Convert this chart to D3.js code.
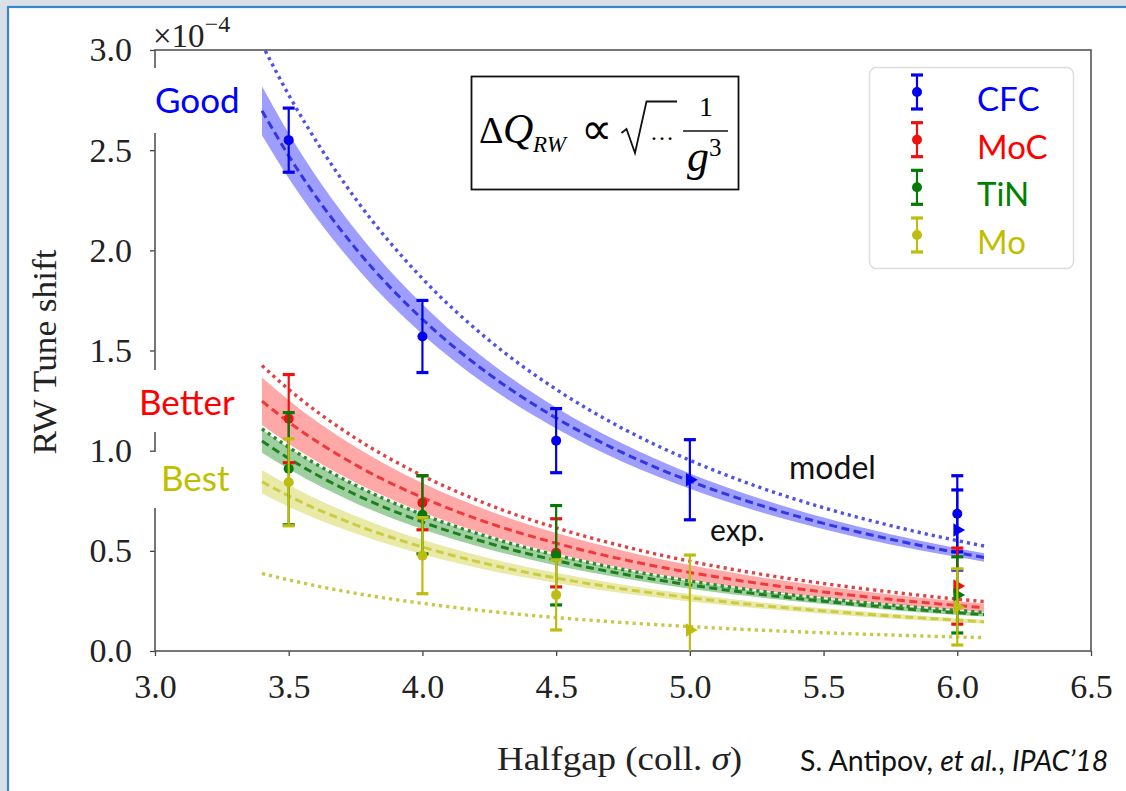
<!DOCTYPE html>
<html lang="en">
<head>
<meta charset="utf-8"/>
<script src="https://d3js.org/d3.v7.min.js"></script>
<style>
  body { margin: 0; background: #d9e0e8; }
  .tick text { font-family: "Liberation Serif", serif; font-size: 34px; fill: #222; }
  .tick line { stroke: #444; stroke-width: 1.3; }
  .domain { display: none; }
  .note { font-family: Lato, "Open Sans", sans-serif; }
</style>
</head>
<body>
<svg id="chart" width="1126" height="791"></svg>
<script>
// sample halfgaps for the fitted / model curves
const halfgap = [3.4, 3.5, 3.75, 4.0, 4.25, 4.5, 4.75, 5.0, 5.25, 5.5, 5.75, 6.0, 6.1];

// CFC
const cfcFit   = [2.697, 2.472, 2.010, 1.656, 1.381, 1.163, 0.989, 0.848, 0.733, 0.637, 0.558, 0.491, 0.467];
const cfcHigh  = [2.819, 2.584, 2.101, 1.731, 1.443, 1.216, 1.034, 0.886, 0.766, 0.666, 0.583, 0.513, 0.488];
const cfcLow   = [2.575, 2.360, 1.919, 1.581, 1.318, 1.111, 0.944, 0.810, 0.699, 0.608, 0.532, 0.469, 0.446];
const cfcModel = [3.028, 2.776, 2.257, 1.859, 1.550, 1.306, 1.110, 0.952, 0.822, 0.715, 0.626, 0.551, 0.524];
// MoC
const mocFit   = [1.247, 1.143, 0.929, 0.766, 0.638, 0.538, 0.457, 0.392, 0.339, 0.295, 0.258, 0.227, 0.216];
const mocHigh  = [1.365, 1.252, 1.018, 0.838, 0.699, 0.589, 0.501, 0.429, 0.371, 0.323, 0.282, 0.248, 0.236];
const mocLow   = [1.128, 1.034, 0.841, 0.693, 0.578, 0.487, 0.414, 0.355, 0.306, 0.267, 0.233, 0.205, 0.195];
const mocModel = [1.425, 1.306, 1.062, 0.875, 0.729, 0.615, 0.523, 0.448, 0.387, 0.337, 0.295, 0.259, 0.247];
// TiN
const tinFit   = [1.048, 0.961, 0.781, 0.644, 0.537, 0.452, 0.384, 0.330, 0.285, 0.248, 0.217, 0.191, 0.182];
const tinHigh  = [1.106, 1.014, 0.824, 0.679, 0.566, 0.477, 0.406, 0.348, 0.300, 0.261, 0.229, 0.201, 0.192];
const tinLow   = [0.990, 0.908, 0.738, 0.608, 0.507, 0.427, 0.363, 0.311, 0.269, 0.234, 0.205, 0.180, 0.172];
const tinModel = [1.109, 1.017, 0.827, 0.681, 0.568, 0.478, 0.407, 0.349, 0.301, 0.262, 0.229, 0.202, 0.192];
// Mo
const moFit    = [0.845, 0.774, 0.630, 0.519, 0.432, 0.364, 0.310, 0.266, 0.229, 0.200, 0.175, 0.154, 0.146];
const moHigh   = [0.904, 0.828, 0.674, 0.555, 0.463, 0.390, 0.331, 0.284, 0.245, 0.213, 0.187, 0.164, 0.156];
const moLow    = [0.786, 0.720, 0.586, 0.483, 0.402, 0.339, 0.288, 0.247, 0.213, 0.186, 0.162, 0.143, 0.136];
const moModel  = [0.387, 0.355, 0.288, 0.238, 0.198, 0.167, 0.142, 0.122, 0.105, 0.091, 0.080, 0.070, 0.067];

// measurements (circles and triangles)
const cfcCircGap = [3.5, 4.0, 4.5, 6.0], cfcCircVal = [2.55, 1.57, 1.05, 0.685], cfcCircErr = [0.16, 0.18, 0.16, 0.19];
const cfcTriGap  = [5.0, 6.0],           cfcTriVal  = [0.855, 0.604],          cfcTriErr  = [0.20, 0.20];
const mocCircGap = [3.5, 4.0, 4.5],      mocCircVal = [1.16, 0.74, 0.49],      mocCircErr = [0.22, 0.135, 0.17];
const mocTriGap  = [6.0],                mocTriVal  = [0.324],                 mocTriErr  = [0.19];
const tinCircGap = [3.5, 4.0, 4.5],      tinCircVal = [0.91, 0.68, 0.478],     tinCircErr = [0.28, 0.195, 0.248];
const tinTriGap  = [6.0],                tinTriVal  = [0.28],                  tinTriErr  = [0.19];
const moCircGap  = [3.5, 4.0, 4.5],      moCircVal  = [0.842, 0.476, 0.28],    moCircErr  = [0.217, 0.19, 0.175];
const moTriGap   = [5.0, 6.0],           moTriVal   = [0.105, 0.22],           moTriErr   = [0.374, 0.19];

const materials = ["CFC", "MoC", "TiN", "Mo"];
const xTicks = [3.0, 3.5, 4.0, 4.5, 5.0, 5.5, 6.0, 6.5];
const yTicks = [0.0, 0.5, 1.0, 1.5, 2.0, 2.5, 3.0];

const series = [
  {fit: cfcFit, hi: cfcHigh, lo: cfcLow, model: cfcModel, band: "#0000ff", bandOp: 0.38, dash: "#3535e2", dot: "#5252e6", bar: "#0000ee", text: "#0000ff",
   circ: [cfcCircGap, cfcCircVal, cfcCircErr], tri: [cfcTriGap, cfcTriVal, cfcTriErr]},
  {fit: mocFit, hi: mocHigh, lo: mocLow, model: mocModel, band: "#ff0000", bandOp: 0.34, dash: "#ee3a3a", dot: "#dd4545", bar: "#ee1111", text: "#ff0000",
   circ: [mocCircGap, mocCircVal, mocCircErr], tri: [mocTriGap, mocTriVal, mocTriErr]},
  {fit: tinFit, hi: tinHigh, lo: tinLow, model: tinModel, band: "#008000", bandOp: 0.38, dash: "#1f7f1f", dot: "#2f8a2f", bar: "#067a06", text: "#008000",
   circ: [tinCircGap, tinCircVal, tinCircErr], tri: [tinTriGap, tinTriVal, tinTriErr]},
  {fit: moFit, hi: moHigh, lo: moLow, model: moModel, band: "#bfbf00", bandOp: 0.34, dash: "#cccc44", dot: "#c8c848", bar: "#bdbd10", text: "#bfbf00",
   circ: [moCircGap, moCircVal, moCircErr], tri: [moTriGap, moTriVal, moTriErr]}
];

const svg = d3.select("#chart");
const pL = 155, pR = 1091, pT = 50, pB = 651;

const x = d3.scaleLinear().domain([3.0, 6.5]).range([pL, pR]);
const y = d3.scaleLinear().domain([0, 3.0]).range([pB, pT]);

// slide background
svg.append("rect").attr("width", 1126).attr("height", 791).attr("fill", "#d9e0e8");
svg.append("rect").attr("x", 8).attr("y", 7).attr("width", 1200).attr("height", 900)
  .attr("fill", "white").attr("stroke", "#3a86c6").attr("stroke-width", 2.2);

svg.append("clipPath").attr("id", "plotclip")
  .append("rect").attr("x", pL).attr("y", pT).attr("width", pR - pL).attr("height", pB - pT);

// axes
svg.append("g").attr("transform", `translate(${pL},0)`)
  .call(d3.axisLeft(y).tickValues(yTicks).tickFormat(d3.format(".1f")).tickSizeOuter(0).tickSize(5).tickPadding(18));
svg.append("g").attr("transform", `translate(0,${pB})`)
  .call(d3.axisBottom(x).tickValues(xTicks).tickFormat(d3.format(".1f")).tickSizeOuter(0).tickSize(5).tickPadding(18));

svg.append("rect").attr("x", pL).attr("y", pT).attr("width", pR - pL).attr("height", pB - pT)
  .attr("fill", "none").attr("stroke", "#555").attr("stroke-width", 1.6);

// ×10^-4
const mult = svg.append("text").attr("x", 153).attr("y", 47)
  .attr("font-family", "Liberation Serif, serif").attr("font-size", 33).attr("fill", "#222");
mult.append("tspan").text("×10");
mult.append("tspan").attr("dy", -15).attr("font-size", 24).text("−4");

// axis titles
svg.append("text").attr("transform", "translate(56,352) rotate(-90)").attr("text-anchor", "middle")
  .attr("font-family", "Liberation Serif, serif").attr("font-size", 33).attr("fill", "#222")
  .attr("textLength", 205).attr("lengthAdjust", "spacingAndGlyphs").text("RW Tune shift");
const xt = svg.append("text").attr("x", 497).attr("y", 770)
  .attr("font-family", "Liberation Serif, serif").attr("font-size", 33).attr("fill", "#222")
  .attr("textLength", 245).attr("lengthAdjust", "spacingAndGlyphs");
xt.append("tspan").text("Halfgap (coll. ");
xt.append("tspan").attr("font-style", "italic").text("σ");
xt.append("tspan").text(")");

const plot = svg.append("g").attr("clip-path", "url(#plotclip)");

const line = arr => d3.line().x((d, i) => x(halfgap[i])).y(d => y(d)).curve(d3.curveMonotoneX)(arr);
const area = (lo, hi) => d3.area().x((d, i) => x(halfgap[i])).y0((d, i) => y(lo[i])).y1((d, i) => y(hi[i]))
  .curve(d3.curveMonotoneX)(halfgap);

series.forEach(s => {
  plot.append("path").attr("d", area(s.lo, s.hi)).attr("fill", s.band).attr("fill-opacity", s.bandOp);
  plot.append("path").attr("d", line(s.fit)).attr("fill", "none").attr("stroke", s.dash)
    .attr("stroke-width", 3).attr("stroke-dasharray", "8,4.5");
  plot.append("path").attr("d", line(s.model)).attr("fill", "none").attr("stroke", s.dot)
    .attr("stroke-width", 3.4).attr("stroke-dasharray", "3.2,4");
});

function errorbars(g, gaps, vals, errs, color, marker) {
  gaps.forEach((gp, i) => {
    const cx = x(gp), y1 = y(vals[i] + errs[i]), y0 = y(vals[i] - errs[i]);
    g.append("line").attr("x1", cx).attr("x2", cx).attr("y1", y1).attr("y2", y0)
      .attr("stroke", color).attr("stroke-width", 2.2);
    [y1, y0].forEach(cy => g.append("line").attr("x1", cx - 6).attr("x2", cx + 6).attr("y1", cy).attr("y2", cy)
      .attr("stroke", color).attr("stroke-width", 3.2));
    if (marker === "circle") {
      g.append("circle").attr("cx", cx).attr("cy", y(vals[i])).attr("r", 5).attr("fill", color);
    } else {
      g.append("path").attr("d", d3.symbol(d3.symbolTriangle, 80)())
        .attr("transform", `translate(${cx},${y(vals[i])}) rotate(90)`).attr("fill", color);
    }
  });
}

series.forEach(s => {
  errorbars(plot, s.circ[0], s.circ[1], s.circ[2], s.bar, "circle");
  errorbars(plot, s.tri[0], s.tri[1], s.tri[2], s.bar, "triangle");
});

// formula box
const fb = svg.append("g");
fb.append("rect").attr("x", 471.5).attr("y", 76.5).attr("width", 267).attr("height", 113)
  .attr("fill", "white").attr("stroke", "#111").attr("stroke-width", 1.8);
const ff = "Liberation Serif, Times New Roman, serif";
fb.append("text").attr("x", 479).attr("y", 143).attr("font-family", ff).attr("font-size", 38).text("Δ");
fb.append("text").attr("x", 503).attr("y", 143).attr("font-family", ff).attr("font-size", 42).attr("font-style", "italic").text("Q");
fb.append("text").attr("x", 533).attr("y", 152).attr("font-family", ff).attr("font-size", 23).attr("font-style", "italic").text("RW");
fb.append("text").attr("x", 581).attr("y", 144).attr("font-family", "DejaVu Sans, sans-serif").attr("font-size", 44).text("∝");
fb.append("path").attr("d", "M621.5,133 L626.5,129 L635,153 L646.5,101.5 L677,101.5")
  .attr("fill", "none").attr("stroke", "#111").attr("stroke-width", 1.8);
fb.append("text").attr("x", 650).attr("y", 140).attr("font-family", ff).attr("font-size", 24).text("…");
fb.append("text").attr("x", 706).attr("y", 116).attr("text-anchor", "middle").attr("font-family", ff).attr("font-size", 28).text("1");
fb.append("line").attr("x1", 683).attr("x2", 728).attr("y1", 131).attr("y2", 131).attr("stroke", "#111").attr("stroke-width", 1.6);
fb.append("text").attr("x", 687).attr("y", 171).attr("font-family", ff).attr("font-size", 44).attr("font-style", "italic").text("g");
fb.append("text").attr("x", 709).attr("y", 156).attr("font-family", ff).attr("font-size", 25).text("3");

// legend
const lg = svg.append("g");
lg.append("rect").attr("x", 869.5).attr("y", 67.5).attr("width", 204).attr("height", 201).attr("rx", 7)
  .attr("fill", "white").attr("stroke", "#dddddd").attr("stroke-width", 1.5);
const legY = d3.scalePoint().domain(materials).range([92, 235]);
materials.forEach((m, i) => {
  const cy = legY(m), c = series[i].bar;
  lg.append("line").attr("x1", 917).attr("x2", 917).attr("y1", cy - 17).attr("y2", cy + 17).attr("stroke", c).attr("stroke-width", 2.2);
  [cy - 17, cy + 17].forEach(v => lg.append("line").attr("x1", 911).attr("x2", 923).attr("y1", v).attr("y2", v)
    .attr("stroke", c).attr("stroke-width", 3.2));
  lg.append("circle").attr("cx", 917).attr("cy", cy).attr("r", 5).attr("fill", c);
  lg.append("text").attr("class", "note").attr("x", 977).attr("y", cy + 19).attr("font-size", 33)
    .attr("fill", series[i].text).text(m);
});

// annotations with white boxes
const notes = [
  {t: "Good",   c: "#0000ff", x: 155, y: 113, box: [138, 68, 120, 65]},
  {t: "Better", c: "#ff0000", x: 139, y: 415, box: [134, 370, 118, 62]},
  {t: "Best",   c: "#bfbf00", x: 161, y: 491, box: [150, 452, 95, 56]}
];
notes.forEach(n => {
  svg.append("rect").attr("x", n.box[0]).attr("y", n.box[1]).attr("width", n.box[2]).attr("height", n.box[3]).attr("fill", "white");
  svg.append("text").attr("class", "note").attr("x", n.x).attr("y", n.y).attr("font-size", 35).attr("fill", n.c).text(n.t);
});
svg.append("text").attr("class", "note").attr("x", 789).attr("y", 479).attr("font-size", 32).attr("fill", "#111").text("model");
svg.append("text").attr("class", "note").attr("x", 710).attr("y", 541).attr("font-size", 30).attr("fill", "#111").text("exp.");

const cite = svg.append("text").attr("class", "note").attr("x", 800).attr("y", 771).attr("font-size", 28.5).attr("fill", "#111");
cite.append("tspan").text("S. Antipov, ");
cite.append("tspan").attr("font-style", "italic").text("et al.");
cite.append("tspan").text(", ");
cite.append("tspan").attr("font-style", "italic").text("IPAC’18");
</script>
</body>
</html>
